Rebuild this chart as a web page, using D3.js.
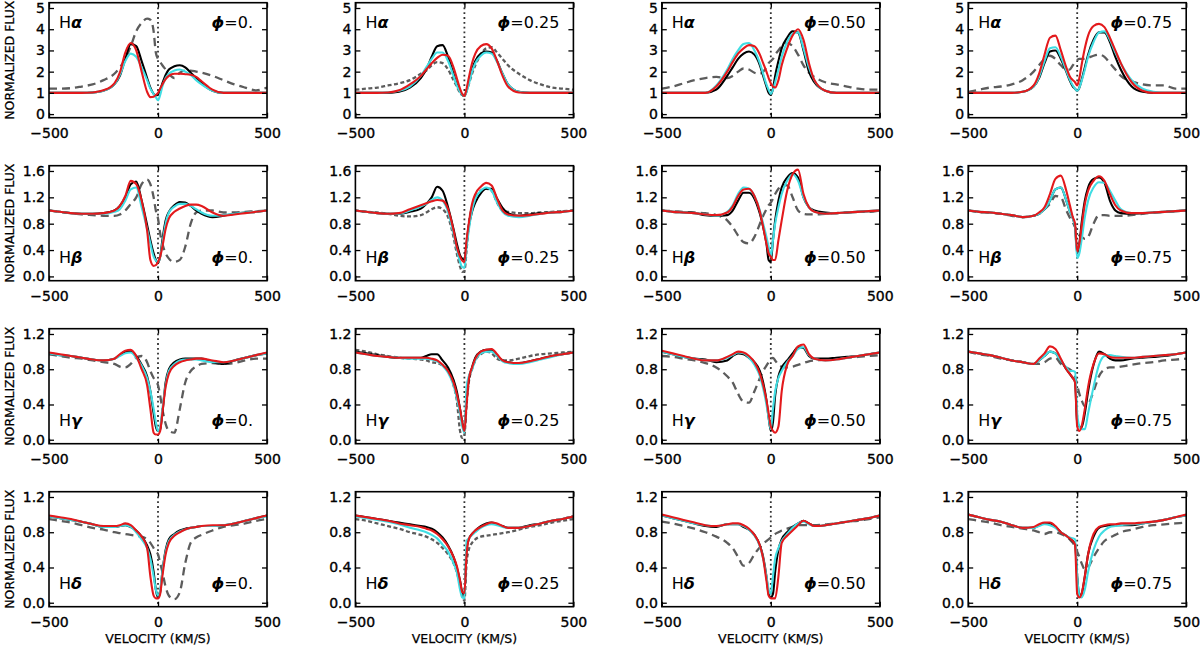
<!DOCTYPE html>
<html><head><meta charset="utf-8">
<script src="https://cdn.jsdelivr.net/npm/d3@7"></script>
<style>body{margin:0;background:#fff}svg{display:block}</style>
</head><body>
<svg id="chart" width="1200" height="648"></svg>
<script>
// Velocity grid (km/s) shared by every profile
const VEL = [-500,-450,-400,-350,-300, -250,-200,-175,-150,-125,-100, -75,-50,-35,-20,-10, 0,10,20,35,50, 75,100,125,150,175,200, 250,300,350,400,450,500];
const LINE_NAMES = ["H", "H", "H", "H"];
const LINE_GREEK = ["\u03b1", "\u03b2", "\u03b3", "\u03b4"];
const PHASES = ["0.", "0.25", "0.50", "0.75"];
const X_TICKS = [-500, 0, 500];
const Y_TICKS_HA = [0, 1, 2, 3, 4, 5];
const Y_TICKS_HB = [0, 0.4, 0.8, 1.2, 1.6];
const Y_TICKS_HGD = [0, 0.4, 0.8, 1.2];

// ---- H-alpha ----
const ha0_k = [1.0,1.0,1.0,1.0,1.02, 1.1,1.4,1.8,2.6,3.3,3.2, 2.5,1.7,1.25,0.95,0.88, 0.92,1.15,1.45,1.85,2.1, 2.25,2.3,2.2,1.95,1.7,1.45, 1.1,1.0,1.0,1.0,1.0,1.0];
const ha0_r = [1.0,1.0,1.0,1.0,1.02, 1.12,1.45,1.95,2.9,3.35,3.0, 2.0,1.05,0.8,0.82,0.9, 1.0,1.2,1.4,1.65,1.8, 1.9,1.9,1.88,1.85,1.75,1.55, 1.15,1.0,1.0,1.0,1.0,1.0];
const ha0_c = [1.0,1.0,1.0,1.0,1.02, 1.1,1.4,1.85,2.5,2.85,2.7, 2.2,1.6,1.2,0.95,0.8, 0.65,0.9,1.3,1.7,1.9, 2.05,2.1,2.0,1.85,1.6,1.4, 1.1,1.0,1.0,1.0,1.0,1.0];
const ha0_g = [1.2,1.2,1.22,1.3,1.4, 1.6,1.9,2.2,2.6,3.2,3.9, 4.3,4.5,4.45,3.9,2.9, 2.6,2.45,2.3,2.1,1.9, 1.7,1.95,2.05,2.05,2.0,1.95, 1.8,1.6,1.4,1.25,1.12,1.25];

const ha1_k = [1.0,1.0,1.0,1.0,1.05, 1.25,1.7,2.1,2.7,3.2,3.25, 2.7,1.9,1.4,1.1,0.9, 0.85,1.1,1.5,2.1,2.5, 2.85,2.95,2.9,2.5,1.9,1.4, 1.05,1.0,1.0,1.0,1.0,1.0];
const ha1_r = [1.0,1.0,1.0,1.02,1.12, 1.4,1.8,2.1,2.4,2.65,2.8, 2.75,2.2,1.7,1.2,0.95, 0.85,1.2,1.7,2.4,2.85, 3.2,3.3,3.1,2.5,1.8,1.3, 1.02,1.0,1.0,1.0,1.0,1.0];
const ha1_c = [1.0,1.0,1.0,1.02,1.1, 1.3,1.8,2.2,2.6,2.9,2.9, 2.5,1.8,1.35,1.05,0.9, 0.85,1.05,1.4,2.0,2.4, 2.75,2.9,2.85,2.45,1.9,1.4, 1.05,1.0,1.0,1.0,1.0,1.0];
const ha1_g = [1.15,1.2,1.25,1.35,1.45, 1.6,1.9,2.05,2.3,2.45,2.4, 2.1,1.6,1.3,1.0,0.9, 0.9,1.1,1.4,1.9,2.3, 2.8,3.1,3.15,2.9,2.6,2.3, 1.9,1.6,1.4,1.25,1.2,1.15];

const ha2_k = [1.0,1.0,1.0,1.0,1.0, 1.15,1.8,2.2,2.6,2.85,2.95, 2.8,2.3,1.8,1.3,1.0, 0.9,1.2,1.8,2.5,3.1, 3.6,3.9,3.85,3.0,2.0,1.5, 1.1,1.0,1.0,1.0,1.0,1.0];
const ha2_r = [1.0,1.0,1.0,1.0,1.0, 1.3,2.0,2.45,2.85,3.1,3.25, 3.2,2.8,2.4,2.0,1.7, 1.45,1.3,1.25,1.6,2.3, 3.1,3.7,4.0,3.5,2.4,1.6, 1.1,1.0,1.0,1.0,1.0,1.0];
const ha2_c = [1.0,1.0,1.0,1.0,1.0, 1.35,2.1,2.6,3.0,3.3,3.35, 3.0,2.4,1.9,1.4,1.15, 0.95,1.15,1.5,2.1,2.7, 3.4,3.8,3.85,3.1,2.2,1.6, 1.1,1.0,1.0,1.0,1.0,1.0];
const ha2_g = [1.2,1.3,1.45,1.6,1.7, 1.75,1.7,1.8,2.0,2.15,2.1, 1.95,1.9,2.0,2.2,2.4, 2.5,2.6,2.8,3.0,3.2, 3.35,3.2,2.8,2.3,1.95,1.75, 1.5,1.4,1.3,1.2,1.15,1.15];

const ha3_k = [1.0,1.0,1.0,1.0,1.0, 1.05,1.3,1.7,2.4,2.95,3.0, 2.6,2.0,1.6,1.3,1.2, 1.1,1.25,1.6,2.2,2.8, 3.5,3.85,3.85,3.4,2.7,2.1, 1.3,1.05,1.0,1.0,1.0,1.0];
const ha3_r = [1.0,1.0,1.0,1.0,1.0, 1.05,1.35,1.9,2.8,3.6,3.7, 3.0,2.2,1.8,1.6,1.5, 1.35,1.7,2.3,3.1,3.7, 4.15,4.25,4.1,3.6,3.0,2.4, 1.5,1.1,1.0,1.0,1.0,1.0];
const ha3_c = [1.0,1.0,1.0,1.0,1.0, 1.05,1.3,1.75,2.5,3.1,3.15, 2.7,2.05,1.65,1.35,1.2, 1.1,1.25,1.55,2.1,2.7, 3.4,3.85,3.9,3.5,2.9,2.4, 1.6,1.2,1.05,1.0,1.0,1.0];
const ha3_g = [1.05,1.15,1.25,1.3,1.4, 1.6,2.0,2.3,2.6,2.75,2.6, 2.3,2.1,2.1,2.3,2.45, 2.55,2.6,2.6,2.6,2.65, 2.75,2.8,2.7,2.4,2.1,1.8, 1.55,1.4,1.35,1.35,1.2,1.2];

// ---- H-beta ----
const hb0_k = [1.0,0.98,0.96,0.95,0.95, 0.96,1.0,1.07,1.2,1.4,1.44, 1.15,0.78,0.55,0.35,0.25, 0.2,0.3,0.55,0.85,0.98, 1.08,1.13,1.12,1.07,1.0,0.95, 0.9,0.92,0.95,0.97,0.98,1.0];
const hb0_r = [1.0,0.98,0.96,0.95,0.95, 0.96,1.0,1.07,1.22,1.45,1.4, 1.15,0.7,0.25,0.16,0.17, 0.22,0.3,0.45,0.72,0.88, 0.98,1.03,1.07,1.09,1.09,1.07, 0.97,0.92,0.94,0.96,0.98,1.0];
const hb0_c = [1.0,0.98,0.96,0.95,0.95, 0.95,0.98,1.02,1.15,1.32,1.35, 1.05,0.72,0.5,0.3,0.24, 0.22,0.3,0.5,0.8,0.97, 1.06,1.1,1.1,1.07,1.02,0.97, 0.92,0.93,0.95,0.97,0.98,1.0];
const hb0_g = [1.0,0.98,0.96,0.94,0.93, 0.92,0.92,0.94,1.0,1.1,1.2, 1.4,1.47,1.4,1.2,1.0, 0.88,0.65,0.5,0.35,0.27, 0.22,0.25,0.45,0.8,0.97,1.0, 1.0,0.97,0.97,0.98,0.99,1.0];

const hb1_k = [1.0,0.98,0.96,0.95,0.95, 0.98,1.03,1.1,1.2,1.36,1.3, 1.05,0.72,0.5,0.32,0.27, 0.25,0.5,0.75,0.98,1.12, 1.26,1.33,1.33,1.18,1.04,0.96, 0.92,0.94,0.96,0.97,0.98,1.0];
const hb1_r = [1.0,0.98,0.96,0.95,0.96, 1.02,1.08,1.11,1.14,1.16,1.15, 1.02,0.7,0.45,0.3,0.24, 0.22,0.55,0.8,1.1,1.25, 1.36,1.42,1.38,1.18,1.0,0.94, 0.92,0.93,0.95,0.97,0.98,1.0];
const hb1_c = [1.0,0.98,0.96,0.95,0.95, 1.0,1.06,1.1,1.16,1.2,1.15, 0.98,0.65,0.42,0.22,0.14, 0.13,0.45,0.7,1.0,1.18, 1.3,1.35,1.3,1.12,0.98,0.92, 0.9,0.92,0.95,0.97,0.98,1.0];
const hb1_g = [1.0,0.98,0.97,0.95,0.92, 0.91,0.93,0.97,1.02,1.05,1.02, 0.9,0.6,0.35,0.15,0.07, 0.08,0.4,0.8,1.05,1.2, 1.3,1.33,1.3,1.12,1.0,0.98, 0.96,0.96,0.97,0.98,0.99,1.0];

const hb2_k = [1.0,0.98,0.97,0.96,0.93, 0.92,0.93,1.0,1.15,1.27,1.27, 1.18,0.95,0.75,0.5,0.25, 0.22,0.55,0.85,1.15,1.35, 1.5,1.57,1.5,1.2,1.05,1.0, 0.97,0.96,0.97,0.98,0.99,1.0];
const hb2_r = [1.0,0.98,0.97,0.96,0.94, 0.93,0.97,1.06,1.22,1.32,1.33, 1.22,0.98,0.75,0.5,0.35, 0.3,0.25,0.25,0.55,0.85, 1.3,1.55,1.62,1.25,1.05,0.98, 0.95,0.96,0.97,0.98,0.99,1.0];
const hb2_c = [1.0,0.98,0.97,0.96,0.94, 0.92,0.98,1.08,1.25,1.35,1.33, 1.22,1.0,0.8,0.6,0.45, 0.3,0.55,0.8,1.05,1.25, 1.45,1.55,1.45,1.2,1.05,0.98, 0.95,0.96,0.97,0.98,0.99,1.0];
const hb2_g = [1.0,0.99,0.98,0.97,0.96, 0.93,0.85,0.75,0.62,0.52,0.5, 0.6,0.8,0.92,1.02,1.08, 1.12,1.18,1.25,1.33,1.38, 1.38,1.2,1.0,0.95,0.94,0.94, 0.95,0.96,0.97,0.98,0.98,1.0];

const hb3_k = [1.0,0.98,0.97,0.95,0.93, 0.9,0.92,0.95,1.02,1.15,1.32, 1.35,1.15,1.0,0.88,0.75, 0.35,0.5,0.8,1.15,1.35, 1.48,1.5,1.42,1.15,1.0,0.96, 0.95,0.96,0.97,0.98,0.99,1.0];
const hb3_r = [1.0,0.98,0.97,0.95,0.93, 0.9,0.92,0.97,1.05,1.25,1.48, 1.53,1.3,1.1,0.9,0.8, 0.38,0.5,0.75,1.1,1.3, 1.45,1.52,1.45,1.25,1.08,1.0, 0.96,0.96,0.97,0.98,0.99,1.0];
const hb3_c = [1.0,0.98,0.97,0.95,0.93, 0.9,0.92,0.95,1.02,1.15,1.32, 1.35,1.15,1.0,0.88,0.75, 0.28,0.35,0.55,0.9,1.15, 1.35,1.43,1.42,1.3,1.15,1.02, 0.96,0.96,0.97,0.98,0.99,1.0];
const hb3_g = [1.0,0.98,0.97,0.95,0.92, 0.9,0.92,0.95,1.02,1.1,1.22, 1.2,1.0,0.9,0.82,0.75, 0.7,0.62,0.6,0.57,0.6, 0.8,0.93,0.93,0.92,0.92,0.92, 0.93,0.95,0.97,0.98,0.99,1.0];

// ---- H-gamma ----
const hg0_k = [0.98,0.96,0.95,0.93,0.91, 0.9,0.92,0.96,1.0,1.0,0.95, 0.85,0.72,0.55,0.3,0.15, 0.1,0.12,0.3,0.65,0.8, 0.88,0.91,0.92,0.92,0.92,0.92, 0.88,0.86,0.9,0.93,0.96,0.98];
const hg0_r = [0.99,0.97,0.95,0.93,0.91, 0.9,0.92,0.97,1.01,1.02,0.95, 0.8,0.62,0.35,0.08,0.06, 0.06,0.1,0.3,0.6,0.75, 0.84,0.88,0.9,0.91,0.92,0.92, 0.9,0.88,0.9,0.93,0.96,0.99];
const hg0_c = [0.98,0.96,0.95,0.93,0.91, 0.9,0.92,0.95,0.98,0.99,0.93, 0.84,0.7,0.55,0.35,0.2, 0.1,0.15,0.35,0.62,0.78, 0.86,0.9,0.91,0.91,0.91,0.9, 0.88,0.88,0.9,0.93,0.96,0.98];
const hg0_g = [0.97,0.95,0.93,0.92,0.9, 0.88,0.86,0.83,0.82,0.86,0.93, 0.95,0.88,0.78,0.7,0.66, 0.62,0.5,0.35,0.18,0.1, 0.08,0.35,0.65,0.78,0.83,0.86, 0.87,0.86,0.87,0.9,0.92,0.92];

const hg1_k = [1.0,0.98,0.96,0.94,0.93, 0.93,0.93,0.95,0.97,0.97,0.9, 0.82,0.68,0.55,0.35,0.2, 0.1,0.45,0.68,0.82,0.93, 1.0,1.02,1.02,0.95,0.9,0.88, 0.87,0.89,0.92,0.95,0.97,0.99];
const hg1_r = [0.99,0.97,0.95,0.94,0.93, 0.93,0.93,0.93,0.92,0.9,0.85, 0.78,0.65,0.52,0.35,0.2, 0.1,0.4,0.68,0.82,0.92, 1.0,1.02,1.03,0.97,0.9,0.88, 0.87,0.89,0.92,0.95,0.97,0.99];
const hg1_c = [0.99,0.97,0.95,0.94,0.93, 0.92,0.92,0.92,0.91,0.89,0.84, 0.76,0.62,0.48,0.3,0.15, 0.08,0.6,0.72,0.8,0.9, 0.98,1.0,1.0,0.95,0.89,0.87, 0.86,0.88,0.91,0.94,0.97,0.99];
const hg1_g = [1.02,1.0,0.97,0.95,0.93, 0.92,0.91,0.9,0.88,0.87,0.84, 0.78,0.62,0.45,0.1,0.02, 0.05,0.4,0.65,0.8,0.9, 0.97,1.0,0.98,0.92,0.9,0.9, 0.92,0.95,0.97,0.98,0.99,1.0];

const hg2_k = [1.0,0.97,0.94,0.92,0.91, 0.88,0.9,0.95,0.98,0.97,0.93, 0.88,0.78,0.65,0.45,0.25, 0.1,0.2,0.5,0.72,0.82, 0.9,0.98,1.05,1.04,0.95,0.92, 0.92,0.93,0.94,0.95,0.97,0.99];
const hg2_r = [1.01,0.98,0.95,0.92,0.9, 0.9,0.94,0.97,1.0,0.99,0.95, 0.88,0.75,0.62,0.45,0.3, 0.15,0.1,0.08,0.15,0.55, 0.85,0.95,1.06,1.08,0.97,0.92, 0.9,0.91,0.93,0.95,0.97,0.99];
const hg2_c = [1.0,0.97,0.94,0.92,0.9, 0.9,0.93,0.96,0.99,0.98,0.93, 0.85,0.72,0.58,0.4,0.25, 0.12,0.35,0.55,0.7,0.78, 0.88,0.95,1.03,1.05,0.96,0.92, 0.9,0.91,0.93,0.95,0.97,0.99];
const hg2_g = [0.95,0.94,0.92,0.9,0.87, 0.82,0.72,0.65,0.52,0.43,0.42, 0.55,0.7,0.78,0.84,0.88, 0.92,0.93,0.9,0.85,0.83, 0.82,0.83,0.85,0.87,0.89,0.9, 0.91,0.92,0.93,0.94,0.95,0.96];

const hg3_k = [1.0,0.98,0.96,0.93,0.9, 0.88,0.86,0.9,0.95,1.0,0.98, 0.9,0.8,0.75,0.7,0.66, 0.2,0.15,0.14,0.3,0.55, 0.85,1.0,0.97,0.92,0.9,0.9, 0.92,0.93,0.94,0.95,0.97,0.99];
const hg3_r = [1.0,0.98,0.96,0.93,0.9, 0.88,0.86,0.92,0.98,1.06,1.03, 0.92,0.8,0.75,0.7,0.65, 0.15,0.1,0.15,0.35,0.6, 0.86,0.98,0.97,0.94,0.93,0.93, 0.93,0.94,0.95,0.96,0.97,0.99];
const hg3_c = [1.0,0.98,0.96,0.93,0.9, 0.88,0.86,0.9,0.95,1.0,0.98, 0.9,0.82,0.78,0.78,0.77, 0.3,0.15,0.12,0.12,0.3, 0.6,0.85,0.95,0.96,0.95,0.94, 0.93,0.94,0.95,0.96,0.97,0.99];
const hg3_g = [1.0,0.97,0.95,0.92,0.9, 0.88,0.86,0.86,0.88,0.92,0.93, 0.86,0.82,0.8,0.77,0.72, 0.62,0.52,0.45,0.38,0.4, 0.55,0.72,0.8,0.82,0.82,0.83, 0.85,0.87,0.88,0.9,0.91,0.92];

// ---- H-delta ----
const hd0_k = [0.98,0.96,0.94,0.92,0.89, 0.86,0.86,0.87,0.88,0.86,0.82, 0.75,0.65,0.55,0.35,0.15, 0.06,0.12,0.35,0.6,0.72, 0.78,0.82,0.84,0.85,0.86,0.87, 0.87,0.88,0.9,0.93,0.96,0.99];
const hd0_r = [0.99,0.97,0.95,0.92,0.89, 0.87,0.87,0.88,0.9,0.88,0.82, 0.75,0.62,0.3,0.08,0.05, 0.05,0.1,0.3,0.55,0.68, 0.76,0.8,0.83,0.85,0.86,0.87, 0.88,0.88,0.9,0.93,0.96,0.99];
const hd0_c = [0.98,0.96,0.94,0.92,0.89, 0.86,0.86,0.87,0.88,0.86,0.8, 0.72,0.62,0.5,0.3,0.15, 0.08,0.15,0.35,0.58,0.7, 0.77,0.81,0.83,0.85,0.86,0.87, 0.87,0.88,0.9,0.93,0.96,0.98];
const hd0_g = [0.95,0.93,0.91,0.88,0.85, 0.83,0.8,0.79,0.78,0.77,0.76, 0.75,0.72,0.68,0.62,0.58, 0.55,0.45,0.35,0.18,0.08, 0.04,0.12,0.45,0.68,0.74,0.77, 0.82,0.86,0.88,0.9,0.93,0.95];

const hd1_k = [0.99,0.97,0.95,0.93,0.91, 0.89,0.87,0.86,0.84,0.8,0.74, 0.65,0.52,0.4,0.25,0.12, 0.1,0.6,0.72,0.78,0.82, 0.87,0.9,0.91,0.89,0.87,0.85, 0.85,0.88,0.9,0.93,0.95,0.98];
const hd1_r = [0.99,0.97,0.95,0.93,0.9, 0.88,0.86,0.84,0.82,0.78,0.72, 0.64,0.52,0.42,0.25,0.12, 0.11,0.55,0.72,0.78,0.82, 0.86,0.89,0.91,0.9,0.87,0.85, 0.85,0.87,0.9,0.93,0.95,0.98];
const hd1_c = [0.98,0.96,0.94,0.92,0.89, 0.85,0.82,0.8,0.77,0.73,0.66, 0.58,0.45,0.35,0.15,0.06, 0.05,0.7,0.73,0.77,0.8, 0.85,0.88,0.89,0.88,0.86,0.85, 0.85,0.87,0.9,0.93,0.95,0.98];
const hd1_g = [0.95,0.93,0.9,0.87,0.84, 0.8,0.77,0.75,0.72,0.68,0.62, 0.55,0.45,0.35,0.2,0.1, 0.02,0.45,0.6,0.68,0.72, 0.75,0.76,0.77,0.78,0.79,0.8, 0.83,0.86,0.88,0.91,0.93,0.95];

const hd2_k = [0.99,0.96,0.93,0.9,0.87, 0.86,0.89,0.89,0.89,0.86,0.83, 0.77,0.65,0.52,0.3,0.1, 0.06,0.1,0.35,0.6,0.72, 0.8,0.86,0.9,0.93,0.9,0.87, 0.88,0.9,0.92,0.94,0.96,0.99];
const hd2_r = [1.0,0.97,0.94,0.91,0.88, 0.87,0.89,0.9,0.9,0.88,0.84, 0.77,0.65,0.5,0.25,0.08, 0.05,0.05,0.05,0.3,0.68, 0.76,0.82,0.88,0.93,0.9,0.87, 0.88,0.9,0.92,0.94,0.96,0.99];
const hd2_c = [0.99,0.96,0.93,0.9,0.88, 0.87,0.89,0.89,0.89,0.87,0.83, 0.76,0.64,0.5,0.3,0.15, 0.1,0.3,0.5,0.62,0.7, 0.78,0.85,0.9,0.92,0.89,0.87, 0.88,0.9,0.92,0.94,0.96,0.99];
const hd2_g = [0.92,0.9,0.87,0.84,0.8, 0.75,0.68,0.62,0.52,0.42,0.45, 0.55,0.63,0.67,0.7,0.72, 0.74,0.76,0.78,0.8,0.82, 0.84,0.86,0.88,0.88,0.88,0.88, 0.89,0.9,0.92,0.93,0.95,0.97];

const hd3_k = [1.0,0.97,0.94,0.92,0.88, 0.85,0.85,0.88,0.9,0.9,0.86, 0.8,0.76,0.73,0.7,0.67, 0.3,0.08,0.1,0.3,0.55, 0.75,0.85,0.87,0.88,0.88,0.88, 0.88,0.9,0.92,0.94,0.97,0.99];
const hd3_r = [1.0,0.97,0.94,0.92,0.88, 0.85,0.86,0.89,0.91,0.91,0.87, 0.8,0.76,0.73,0.7,0.66, 0.1,0.06,0.1,0.3,0.55, 0.78,0.86,0.88,0.89,0.89,0.9, 0.9,0.91,0.92,0.94,0.97,1.0];
const hd3_c = [1.0,0.97,0.94,0.92,0.88, 0.85,0.85,0.87,0.89,0.88,0.85, 0.8,0.76,0.74,0.73,0.72, 0.3,0.08,0.06,0.15,0.35, 0.6,0.75,0.82,0.86,0.87,0.88, 0.89,0.9,0.92,0.94,0.97,0.99];
const hd3_g = [0.95,0.93,0.91,0.88,0.86, 0.84,0.82,0.8,0.78,0.8,0.8, 0.78,0.75,0.72,0.68,0.64, 0.58,0.52,0.45,0.38,0.4, 0.52,0.62,0.7,0.74,0.77,0.8, 0.83,0.86,0.88,0.89,0.9,0.91];

const Y_DOMAINS = [[-0.17, 5.25], [-0.065, 1.68], [-0.045, 1.26], [-0.045, 1.26]];

const PANELS = [
  [[ha0_g,ha0_k,ha0_c,ha0_r],[ha1_g,ha1_k,ha1_c,ha1_r],[ha2_g,ha2_k,ha2_c,ha2_r],[ha3_g,ha3_k,ha3_c,ha3_r]],
  [[hb0_g,hb0_k,hb0_c,hb0_r],[hb1_g,hb1_k,hb1_c,hb1_r],[hb2_g,hb2_k,hb2_c,hb2_r],[hb3_g,hb3_k,hb3_c,hb3_r]],
  [[hg0_g,hg0_k,hg0_c,hg0_r],[hg1_g,hg1_k,hg1_c,hg1_r],[hg2_g,hg2_k,hg2_c,hg2_r],[hg3_g,hg3_k,hg3_c,hg3_r]],
  [[hd0_g,hd0_k,hd0_c,hd0_r],[hd1_g,hd1_k,hd1_c,hd1_r],[hd2_g,hd2_k,hd2_c,hd2_r],[hd3_g,hd3_k,hd3_c,hd3_r]]
];
const Y_TICKS = [Y_TICKS_HA, Y_TICKS_HB, Y_TICKS_HGD, Y_TICKS_HGD];

const COLORS = ["#5c5c5c", "#000000", "#40dde3", "#e3191c"];
const FONT = "DejaVu Sans, Verdana, sans-serif";

const svg = d3.select("#chart");
const COL_LEFT = 49, COL_PITCH = 306.4, PW = 218;
const ROW_TOP = 2.7, ROW_PITCH = 163, PH = 115;

const defs = svg.append("defs");

for (let r = 0; r < 4; r++) {
  for (let c = 0; c < 4; c++) {
    const x0 = COL_LEFT + c * COL_PITCH, y0 = ROW_TOP + r * ROW_PITCH;
    const x = d3.scaleLinear().domain([-500, 500]).range([x0, x0 + PW]);
    const y = d3.scaleLinear().domain(Y_DOMAINS[r]).range([y0 + PH, y0]);
    const id = `clip-${r}-${c}`;
    defs.append("clipPath").attr("id", id).append("rect")
      .attr("x", x0).attr("y", y0).attr("width", PW).attr("height", PH);
    const g = svg.append("g");
    const inner = g.append("g").attr("clip-path", `url(#${id})`);

    // zero-velocity dotted line
    inner.append("line")
      .attr("x1", x(0)).attr("x2", x(0)).attr("y1", y0).attr("y2", y0 + PH)
      .attr("stroke", "#333").attr("stroke-width", 1.8).attr("stroke-dasharray", "1.8,3");

    const line = d3.line().x((d, i) => x(VEL[i])).y(d => y(d)).curve(d3.curveMonotoneX);
    PANELS[r][c].forEach((series, k) => {
      inner.append("path").attr("d", line(series))
        .attr("fill", "none").attr("stroke", COLORS[k])
        .attr("stroke-width", k === 0 ? 2.3 : 2.1)
        .attr("stroke-linejoin", "round")
        .attr("stroke-dasharray", k === 0 ? (c === 1 ? "4,2.5" : "8,5") : null);
    });

    // axes
    const fmt = r === 0 ? d3.format("d") : d3.format(".1f");
    g.append("g").attr("transform", `translate(${x0},0)`)
      .call(d3.axisLeft(y).tickValues(Y_TICKS[r]).tickSize(-5).tickPadding(4).tickFormat(fmt));
    g.append("g").attr("transform", `translate(${x0 + PW},0)`)
      .call(d3.axisRight(y).tickValues(Y_TICKS[r]).tickSize(-5).tickFormat(""));
    g.append("g").attr("transform", `translate(0,${y0 + PH})`)
      .call(d3.axisBottom(x).tickValues(X_TICKS).tickSize(-5).tickPadding(10));
    g.append("g").attr("transform", `translate(0,${y0})`)
      .call(d3.axisTop(x).tickValues(X_TICKS).tickSize(-5).tickFormat(""));
    g.selectAll(".domain").remove();
    g.selectAll(".tick line").attr("stroke", "#000").attr("stroke-width", 1.3);
    g.selectAll(".tick text").attr("font-family", FONT).attr("font-size", 14).attr("fill", "#000")
      .attr("stroke", "#000").attr("stroke-width", 0.35);

    // frame
    g.append("rect").attr("x", x0).attr("y", y0).attr("width", PW).attr("height", PH)
      .attr("fill", "none").attr("stroke", "#000").attr("stroke-width", 1.6);

    // labels
    const ly = r === 0 ? y0 + 25 : y0 + PH - 18;
    const t1 = g.append("text").attr("x", x0 + 10).attr("y", ly)
      .attr("font-family", FONT).attr("font-size", 16).attr("fill", "#000");
    t1.append("tspan").text(LINE_NAMES[r]);
    t1.append("tspan").attr("font-style", "italic").attr("font-weight", "bold").text(LINE_GREEK[r]);
    const t2 = g.append("text").attr("x", x0 + PW - 14).attr("y", ly).attr("text-anchor", "end")
      .attr("font-family", FONT).attr("font-size", 16).attr("fill", "#000");
    t2.append("tspan").attr("font-style", "italic").attr("font-weight", "bold").text("\u03d5");
    t2.append("tspan").text("=" + PHASES[c]);

    if (c === 0) {
      svg.append("text").attr("transform", `translate(14,${y0 + PH / 2}) rotate(-90)`)
        .attr("text-anchor", "middle").attr("font-family", FONT).attr("font-size", 12.5)
        .attr("stroke", "#000").attr("stroke-width", 0.25)
        .text("NORMALIZED FLUX");
    }
    if (r === 3) {
      svg.append("text").attr("x", x(0)).attr("y", 643).attr("text-anchor", "middle")
        .attr("font-family", FONT).attr("font-size", 12.5)
        .attr("stroke", "#000").attr("stroke-width", 0.25).text("VELOCITY (KM/S)");
    }
  }
}
</script>
</body></html>
